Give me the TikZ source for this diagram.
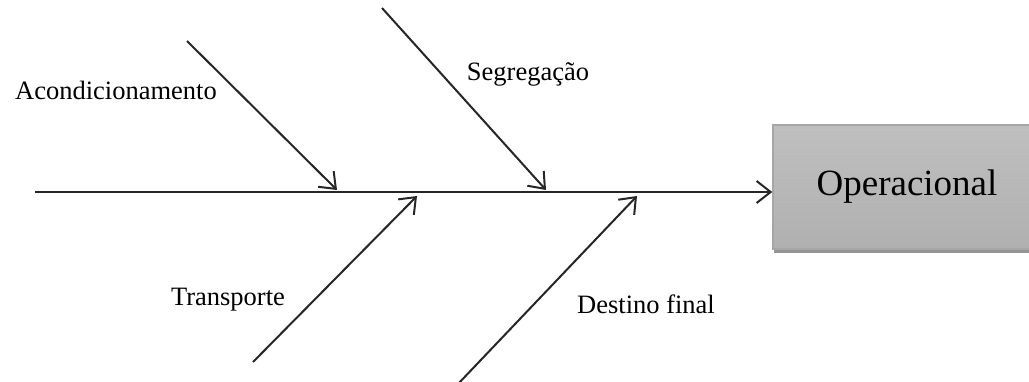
\documentclass[tikz,border=0pt]{standalone}
\usepackage{fontspec}
\setmainfont{Liberation Serif}
\usetikzlibrary{arrows.meta,shadows}

\begin{document}
\begin{tikzpicture}[x=1pt,y=-1pt,
        bone/.style={line width=2pt,draw=black!85,-{Straight Barb[length=14pt,width=22pt,line width=2pt]}},
        causetext/.style={font=\fontsize{26.5}{30}\selectfont},
        effectbox/.style={draw=gray!70,line width=1.5pt,top color=gray!50,bottom color=gray!62,
            minimum width=268pt,minimum height=124pt,inner sep=0pt,
            drop shadow={shadow xshift=1pt,shadow yshift=-4pt,opacity=0.6,fill=black!70},
            font=\fontsize{37}{44}\selectfont}]
    \useasboundingbox (0,0) rectangle (1029,382);

    % effect
    \node[effectbox] (effect) at (907,187) {Operacional};
    \coordinate (tail) at (35,192);
    \draw[bone] (tail) -- (tail -| effect.west);

    % causes
    \coordinate (acon1) at (187,41);   \coordinate (acon2) at (337,190);
    \coordinate (segr1) at (382,8);    \coordinate (segr2) at (546,190);
    \coordinate (tran1) at (253,362);  \coordinate (tran2) at (417,196);
    \coordinate (dest1) at (458,384);  \coordinate (dest2) at (637,196);
    \draw[bone] (acon1) -- (acon2);
    \draw[bone] (segr1) -- (segr2);
    \draw[bone] (tran1) -- (tran2);
    \draw[bone] (dest1) -- (dest2);

    \node[causetext] (acon) at (116,90)  {Acondicionamento};
    \node[causetext] (segr) at (528,74)  {Segrega\c{c}\~ao};
    \node[causetext] (tran) at (228,300) {Transporte};
    \node[causetext] (dest) at (646,304) {Destino final};
\end{tikzpicture}
\end{document}
